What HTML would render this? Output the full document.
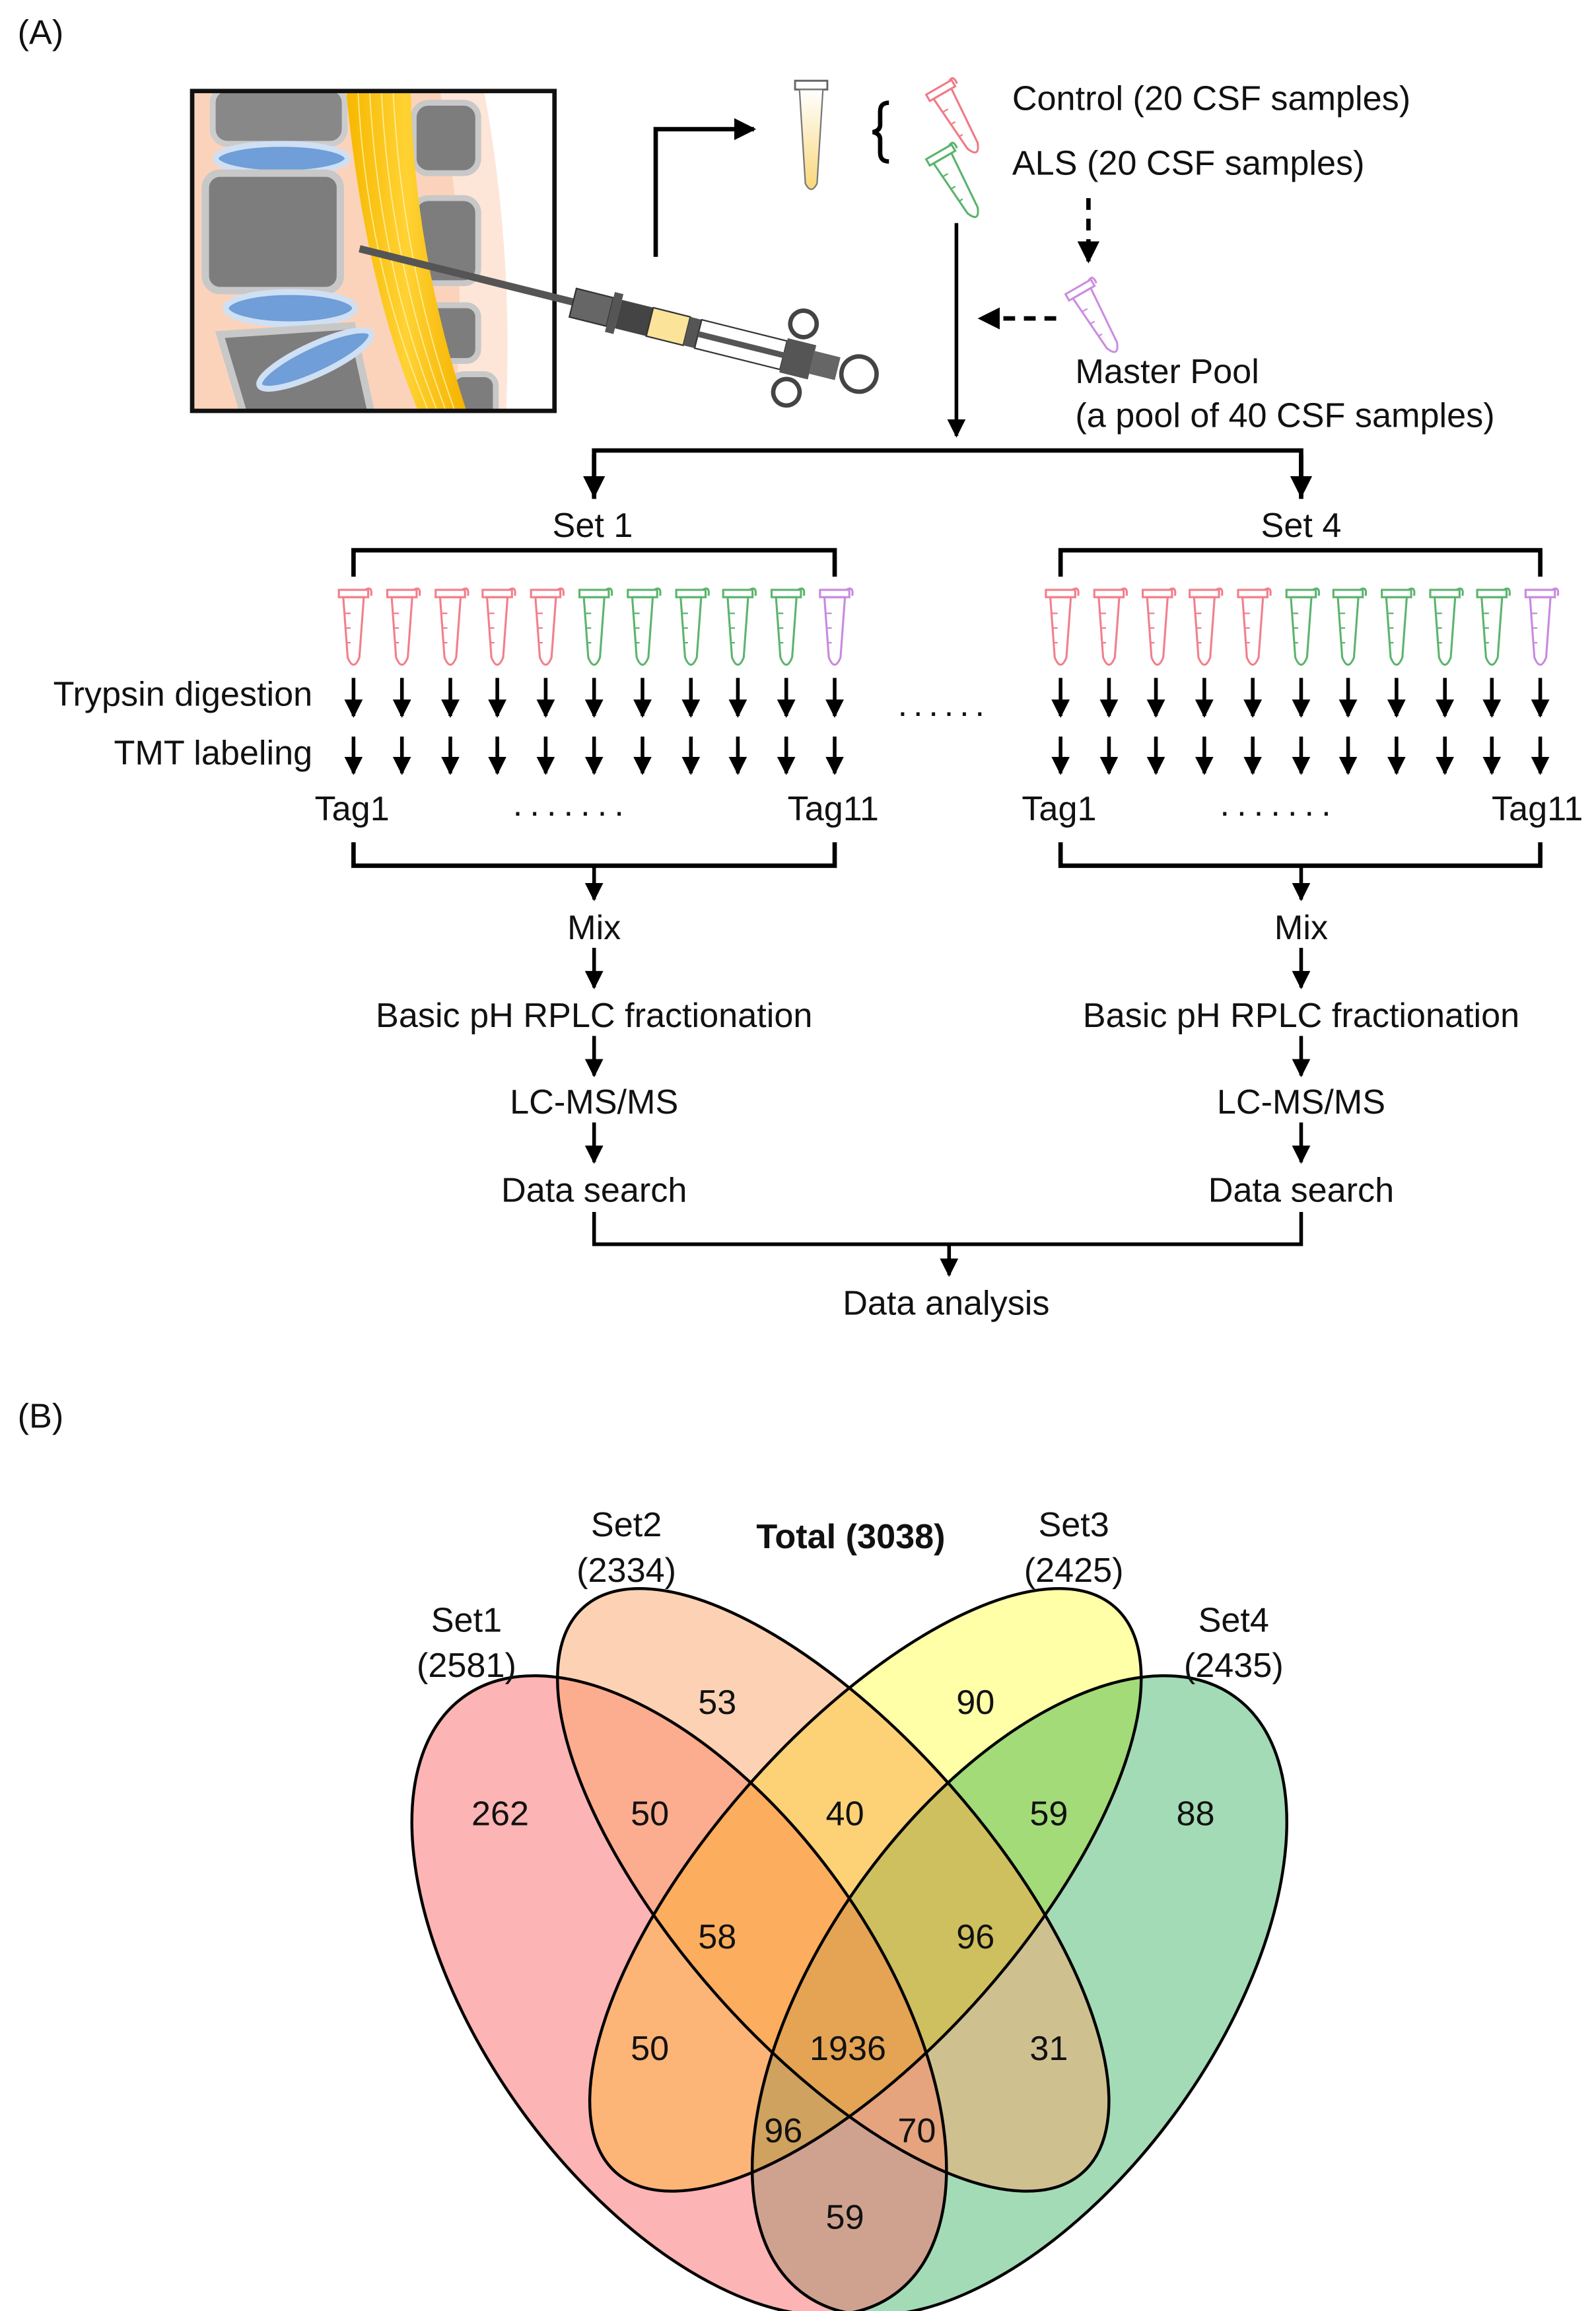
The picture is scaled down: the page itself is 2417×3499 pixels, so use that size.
<!DOCTYPE html>
<html><head><meta charset="utf-8"><style>
html,body{margin:0;padding:0;background:#fff}
svg{display:block}
text{font-family:"Liberation Sans",sans-serif;font-size:23.5px;fill:#111}
</style></head><body>
<svg width="2417" height="3499" viewBox="0 0 1088 1575" xmlns="http://www.w3.org/2000/svg">
<defs>
<marker id="ah" viewBox="0 0 10 10" refX="9" refY="5" markerWidth="5" markerHeight="5" orient="auto" markerUnits="strokeWidth"><path d="M0,0 L10,5 L0,10 Z" fill="#000"/></marker>
<symbol id="tube" viewBox="0 0 26 60" overflow="visible">
<path d="M3,4 h20 v5 h-20 Z M21,4 q5,-3 4,4" fill="none" stroke="currentColor" stroke-width="1.4"/>
<path d="M6,9 L20,9 L17,50 Q13,60 9,50 Z" fill="none" stroke="currentColor" stroke-width="1.4"/>
<path d="M7,20 h4 M8,30 h3 M8,40 h3" stroke="currentColor" stroke-width="1"/>
</symbol>
<linearGradient id="cord" x1="0" x2="1"><stop offset="0" stop-color="#f6b800"/><stop offset=".5" stop-color="#ffd233"/><stop offset="1" stop-color="#f4b300"/></linearGradient>
<linearGradient id="csf" x1="0" y1="0" x2="0" y2="1"><stop offset="0" stop-color="#fff"/><stop offset="1" stop-color="#f9d77a"/></linearGradient>
</defs>

<text x="12" y="30">(A)</text>

<clipPath id="box"><rect x="131" y="62" width="247" height="218"/></clipPath>
<g clip-path="url(#box)">
<rect x="131" y="62" width="247" height="218" fill="#fbd3bb"/>
<path d="M320,62 Q340,170 330,280 L378,280 L378,62 Z" fill="#fff"/>
<path d="M300,62 Q320,170 310,280 L345,280 Q350,170 330,62 Z" fill="#fde6d8"/>
<rect x="145" y="60" width="90" height="38" rx="10" fill="#888" stroke="#ccc" stroke-width="4"/>
<ellipse cx="192" cy="108" rx="45" ry="10" fill="#6f9ed8" stroke="#cfe0f4" stroke-width="4"/>
<rect x="140" y="118" width="92" height="80" rx="10" fill="#7d7d7d" stroke="#c8c8c8" stroke-width="5"/>
<ellipse cx="198" cy="210" rx="44" ry="11" fill="#6f9ed8" stroke="#cfe0f4" stroke-width="4"/>
<path d="M150,228 L240,222 L255,290 L170,295 Z" fill="#7d7d7d" stroke="#c8c8c8" stroke-width="5"/>
<ellipse cx="215" cy="245" rx="42" ry="10" transform="rotate(-25 215 245)" fill="#6f9ed8" stroke="#cfe0f4" stroke-width="4"/>
<rect x="282" y="70" width="44" height="48" rx="10" fill="#7d7d7d" stroke="#c8c8c8" stroke-width="4"/>
<rect x="282" y="135" width="44" height="58" rx="10" fill="#7d7d7d" stroke="#c8c8c8" stroke-width="4"/>
<rect x="290" y="208" width="36" height="38" rx="8" fill="#7d7d7d" stroke="#c8c8c8" stroke-width="4"/>
<rect x="308" y="255" width="30" height="40" rx="8" fill="#7d7d7d" stroke="#c8c8c8" stroke-width="4"/>
<path d="M236,62 L280,62 Q282,170 318,280 L285,280 Q248,190 236,62 Z" fill="url(#cord)"/>
<g stroke="#fff3b0" stroke-width="0.8" fill="none" opacity=".8">
<path d="M244,62 Q250,180 292,280"/><path d="M252,62 Q258,180 298,280"/><path d="M260,62 Q266,180 304,280"/><path d="M268,62 Q274,180 310,280"/>
</g>
</g>
<rect x="131" y="62" width="247" height="218" fill="none" stroke="#111" stroke-width="3"/>
<g transform="rotate(14 245 170)">
<rect x="245" y="167" width="150" height="5" fill="#555"/>
<rect x="395" y="160" width="26" height="20" fill="#666" stroke="#333"/>
<rect x="421" y="156" width="6" height="28" fill="#555"/>
<rect x="427" y="160" width="22" height="20" fill="#444"/>
<rect x="449" y="160" width="26" height="20" fill="#fbe39a" stroke="#333"/>
<rect x="475" y="160" width="8" height="20" fill="#555"/>
<rect x="483" y="160" width="60" height="20" fill="#fff" stroke="#333"/>
<rect x="483" y="168" width="60" height="4" fill="#555"/>
<rect x="543" y="158" width="20" height="24" fill="#555"/>
<rect x="563" y="162" width="18" height="16" fill="#666"/>
<circle cx="551" cy="146" r="9" fill="none" stroke="#444" stroke-width="3"/>
<circle cx="551" cy="194" r="9" fill="none" stroke="#444" stroke-width="3"/>
<circle cx="596" cy="170" r="12" fill="none" stroke="#444" stroke-width="3"/>
</g>

<path d="M447,175 V88 H514" fill="none" stroke="#000" stroke-width="3" marker-end="url(#ah)"/>
<path d="M542,55 h22 v6 h-22 Z" fill="#fff" stroke="#666" stroke-width="1.3"/>
<path d="M545,61 L561,61 L557,125 Q553,133 549,125 Z" fill="url(#csf)" stroke="#777" stroke-width="1"/>
<path d="M606,70 q-6,0 -6,6 v9 q0,4 -5,5 q5,1 5,5 v9 q0,6 6,6" fill="none" stroke="#000" stroke-width="3"/>
<use href="#tube" x="640" y="52" width="26" height="60" color="#f07a86" transform="rotate(-30 653 82)"/>
<use href="#tube" x="640" y="96" width="26" height="60" color="#5bb36d" transform="rotate(-30 653 126)"/>
<text x="690" y="75">Control (20 CSF samples)</text>
<text x="690" y="119">ALS (20 CSF samples)</text>
<path d="M742,135 V178" fill="none" stroke="#000" stroke-width="3" stroke-dasharray="8,6" marker-end="url(#ah)"/>
<use href="#tube" x="735" y="188" width="26" height="60" color="#cc8de0" transform="rotate(-30 748 218)"/>
<path d="M720,217 H668" fill="none" stroke="#000" stroke-width="3" stroke-dasharray="8,6" marker-end="url(#ah)"/>
<text x="733" y="261">Master Pool</text>
<text x="733" y="291">(a pool of 40 CSF samples)</text>
<path d="M652,152 V297" fill="none" stroke="#000" stroke-width="2.5" marker-end="url(#ah)"/>
<path d="M405,340 V307 H887 V340" fill="none" stroke="#000" stroke-width="3"/>
<path d="M405,310 V338" stroke="#000" stroke-width="3" marker-end="url(#ah)"/>
<path d="M887,310 V338" stroke="#000" stroke-width="3" marker-end="url(#ah)"/>
<text x="404" y="366" text-anchor="middle">Set 1</text>
<text x="887" y="366" text-anchor="middle">Set 4</text>
<path d="M241,393 V375 H569 V393 M723,393 V375 H1050 V393" fill="none" stroke="#000" stroke-width="3"/>

<g>
<use href="#tube" x="228" y="398" width="26" height="60" color="#f27f8b"/>
<use href="#tube" x="261" y="398" width="26" height="60" color="#f27f8b"/>
<use href="#tube" x="294" y="398" width="26" height="60" color="#f27f8b"/>
<use href="#tube" x="326" y="398" width="26" height="60" color="#f27f8b"/>
<use href="#tube" x="359" y="398" width="26" height="60" color="#f27f8b"/>
<use href="#tube" x="392" y="398" width="26" height="60" color="#5cb46e"/>
<use href="#tube" x="425" y="398" width="26" height="60" color="#5cb46e"/>
<use href="#tube" x="458" y="398" width="26" height="60" color="#5cb46e"/>
<use href="#tube" x="490" y="398" width="26" height="60" color="#5cb46e"/>
<use href="#tube" x="523" y="398" width="26" height="60" color="#5cb46e"/>
<use href="#tube" x="556" y="398" width="26" height="60" color="#c88ade"/>
<use href="#tube" x="710" y="398" width="26" height="60" color="#f27f8b"/>
<use href="#tube" x="743" y="398" width="26" height="60" color="#f27f8b"/>
<use href="#tube" x="776" y="398" width="26" height="60" color="#f27f8b"/>
<use href="#tube" x="808" y="398" width="26" height="60" color="#f27f8b"/>
<use href="#tube" x="841" y="398" width="26" height="60" color="#f27f8b"/>
<use href="#tube" x="874" y="398" width="26" height="60" color="#5cb46e"/>
<use href="#tube" x="906" y="398" width="26" height="60" color="#5cb46e"/>
<use href="#tube" x="939" y="398" width="26" height="60" color="#5cb46e"/>
<use href="#tube" x="972" y="398" width="26" height="60" color="#5cb46e"/>
<use href="#tube" x="1004" y="398" width="26" height="60" color="#5cb46e"/>
<use href="#tube" x="1037" y="398" width="26" height="60" color="#c88ade"/>
</g>
<text x="213" y="481" text-anchor="end">Trypsin digestion</text>
<text x="213" y="521" text-anchor="end">TMT labeling</text>
<g stroke="#000" stroke-width="2.5" marker-end="url(#ah)">
<path d="M241,462V488"/><path d="M274,462V488"/><path d="M307,462V488"/><path d="M339,462V488"/><path d="M372,462V488"/><path d="M405,462V488"/><path d="M438,462V488"/><path d="M471,462V488"/><path d="M503,462V488"/><path d="M536,462V488"/><path d="M569,462V488"/>
<path d="M723,462V488"/><path d="M756,462V488"/><path d="M788,462V488"/><path d="M821,462V488"/><path d="M854,462V488"/><path d="M887,462V488"/><path d="M919,462V488"/><path d="M952,462V488"/><path d="M985,462V488"/><path d="M1017,462V488"/><path d="M1050,462V488"/>
<path d="M241,502V527"/><path d="M274,502V527"/><path d="M307,502V527"/><path d="M339,502V527"/><path d="M372,502V527"/><path d="M405,502V527"/><path d="M438,502V527"/><path d="M471,502V527"/><path d="M503,502V527"/><path d="M536,502V527"/><path d="M569,502V527"/>
<path d="M723,502V527"/><path d="M756,502V527"/><path d="M788,502V527"/><path d="M821,502V527"/><path d="M854,502V527"/><path d="M887,502V527"/><path d="M919,502V527"/><path d="M952,502V527"/><path d="M985,502V527"/><path d="M1017,502V527"/><path d="M1050,502V527"/>
</g>
<text x="612" y="488" letter-spacing="4">......</text>
<text x="240" y="559" text-anchor="middle">Tag1</text>
<text x="390" y="556" text-anchor="middle" letter-spacing="5">.......</text>
<text x="568" y="559" text-anchor="middle">Tag11</text>
<text x="722" y="559" text-anchor="middle">Tag1</text>
<text x="872" y="556" text-anchor="middle" letter-spacing="5">.......</text>
<text x="1048" y="559" text-anchor="middle">Tag11</text>

<path d="M241,574 V590 H569 V574 M723,574 V590 H1050 V574" fill="none" stroke="#000" stroke-width="3"/>
<g stroke="#000" stroke-width="2.5" marker-end="url(#ah)">
<path d="M405,590V613"/><path d="M887,590V613"/>
<path d="M405,646V673"/><path d="M887,646V673"/>
<path d="M405,706V733"/><path d="M887,706V733"/>
<path d="M405,765V792"/><path d="M887,765V792"/>
<path d="M647,848V869"/>
</g>
<text x="405" y="640" text-anchor="middle">Mix</text>
<text x="887" y="640" text-anchor="middle">Mix</text>
<text x="405" y="700" text-anchor="middle">Basic pH RPLC fractionation</text>
<text x="887" y="700" text-anchor="middle">Basic pH RPLC fractionation</text>
<text x="405" y="759" text-anchor="middle">LC-MS/MS</text>
<text x="887" y="759" text-anchor="middle">LC-MS/MS</text>
<text x="405" y="819" text-anchor="middle">Data search</text>
<text x="887" y="819" text-anchor="middle">Data search</text>
<path d="M405,826 V848 H887 V826" fill="none" stroke="#000" stroke-width="2.5"/>
<text x="645" y="896" text-anchor="middle">Data analysis</text>

<text x="12" y="973">(B)</text>

<g stroke="none">
<ellipse cx="695" cy="1360" rx="133" ry="251" transform="rotate(35.8 695 1360)" fill="#47b76d" fill-opacity=".5"/>
<ellipse cx="463" cy="1360" rx="133" ry="251" transform="rotate(-35.8 463 1360)" fill="#fb6969" fill-opacity=".5"/>
<ellipse cx="568" cy="1288" rx="107" ry="257" transform="rotate(-41.4 568 1288)" fill="#fba669" fill-opacity=".5"/>
<ellipse cx="590" cy="1288" rx="107" ry="257" transform="rotate(41.4 590 1288)" fill="#ffffa8" style="mix-blend-mode:multiply"/>
</g>
<g fill="none" stroke="#000" stroke-width="2">
<ellipse cx="695" cy="1360" rx="133" ry="251" transform="rotate(35.8 695 1360)"/>
<ellipse cx="590" cy="1288" rx="107" ry="257" transform="rotate(41.4 590 1288)"/>
<ellipse cx="463" cy="1360" rx="133" ry="251" transform="rotate(-35.8 463 1360)"/>
<ellipse cx="568" cy="1288" rx="107" ry="257" transform="rotate(-41.4 568 1288)"/>
</g>
<g text-anchor="middle">
<text x="580" y="1055" font-weight="bold">Total (3038)</text>
<text x="427" y="1047">Set2</text><text x="427" y="1078">(2334)</text>
<text x="732" y="1047">Set3</text><text x="732" y="1078">(2425)</text>
<text x="318" y="1112">Set1</text><text x="318" y="1143">(2581)</text>
<text x="841" y="1112">Set4</text><text x="841" y="1143">(2435)</text>
<text x="489" y="1168">53</text><text x="665" y="1168">90</text>
<text x="341" y="1244">262</text><text x="443" y="1244">50</text><text x="576" y="1244">40</text><text x="715" y="1244">59</text><text x="815" y="1244">88</text>
<text x="489" y="1328">58</text><text x="665" y="1328">96</text>
<text x="443" y="1404">50</text><text x="578" y="1404">1936</text><text x="715" y="1404">31</text>
<text x="534" y="1460">96</text><text x="625" y="1460">70</text>
<text x="576" y="1519">59</text>
</g>
</svg>
</body></html>
